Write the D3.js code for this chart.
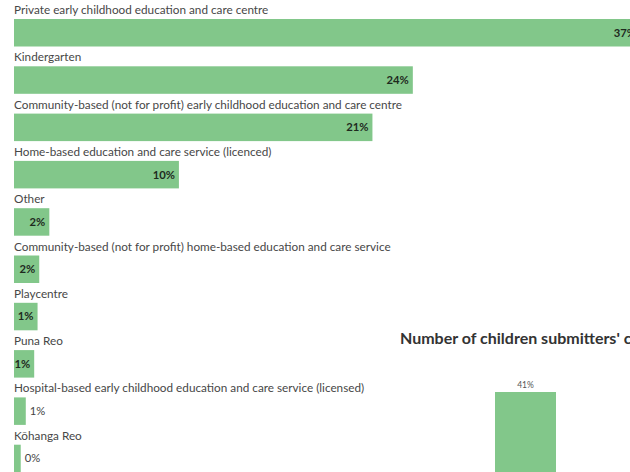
<!DOCTYPE html>
<html>
<head>
<meta charset="utf-8">
<script src="https://cdn.jsdelivr.net/npm/d3@7/dist/d3.min.js"></script>
<style>
  html, body { margin: 0; padding: 0; background: #fff; overflow: hidden; }
  svg { display: block; }
</style>
</head>
<body>
<script>
// Type of early childhood service attended (percent of submitters)
const serviceTypes = [
  "Private early childhood education and care centre",
  "Kindergarten",
  "Community-based (not for profit) early childhood education and care centre",
  "Home-based education and care service (licenced)",
  "Other",
  "Community-based (not for profit) home-based education and care service",
  "Playcentre",
  "Puna Reo",
  "Hospital-based early childhood education and care service (licensed)",
  "Kōhanga Reo"
];
const servicePercents = [37.2, 23.7, 21.3, 9.8, 2.1, 1.5, 1.4, 1.2, 0.7, 0.4];

// Second panel: number of children
const childCountCategories = ["1"];
const childCountPercents = [41];
const childCountTitle = "Number of children submitters' care for";

const W = 630, H = 472;
const green = "#82c78a";
const font = "Lato, 'Source Sans Pro', sans-serif";

const svg = d3.select("body").append("svg")
  .attr("width", W).attr("height", H);

// ---- horizontal bar panel ----
const left = 14;
const x = d3.scaleLinear().domain([0, 37.2]).range([left, left + 626]);
const rows = d3.scaleBand().domain(serviceTypes).range([0, 473]);
const fmt = v => d3.format(".0f")(v) + "%";

const rowG = svg.append("g").selectAll("g")
  .data(serviceTypes.map((name, i) => ({ name, value: servicePercents[i] })))
  .join("g")
  .attr("transform", d => `translate(0,${rows(d.name)})`);

rowG.append("text")
  .attr("x", left).attr("y", 14)
  .attr("font-family", font).attr("font-size", 11.75)
  .attr("fill", "#474747")
  .text(d => d.name);

const barH = 27.5;
rowG.append("rect")
  .attr("x", x(0)).attr("y", 19)
  .attr("width", d => x(d.value) - x(0))
  .attr("height", barH)
  .attr("fill", green);

rowG.append("text")
  .attr("y", 19 + barH / 2)
  .attr("dy", "0.35em")
  .attr("font-family", font).attr("font-size", 11.25)
  .each(function (d) {
    const w = x(d.value) - x(0);
    const inside = w > 20;
    d3.select(this)
      .attr("x", inside ? x(d.value) - 4 : x(d.value) + 4)
      .attr("text-anchor", inside ? "end" : "start")
      .attr("font-weight", inside ? 700 : 400)
      .attr("fill", inside ? "#1e2a1e" : "#444");
  })
  .text(d => fmt(d.value));

// ---- vertical bar panel (partly visible) ----
svg.append("text")
  .attr("x", 400).attr("y", 344)
  .attr("font-family", font).attr("font-size", 16)
  .attr("font-weight", 700).attr("fill", "#333")
  .text(childCountTitle);

const bx = d3.scaleBand().domain(childCountCategories).range([495, 556]);
const by = d3.scaleLinear().domain([0, 41]).range([560, 392]);

svg.append("g").selectAll("rect")
  .data(childCountCategories.map((c, i) => ({ c, v: childCountPercents[i] })))
  .join("rect")
  .attr("x", d => bx(d.c)).attr("width", bx.bandwidth())
  .attr("y", d => by(d.v)).attr("height", d => by(0) - by(d.v))
  .attr("fill", green);

svg.append("g").selectAll("text")
  .data(childCountCategories.map((c, i) => ({ c, v: childCountPercents[i] })))
  .join("text")
  .attr("x", d => bx(d.c) + bx.bandwidth() / 2)
  .attr("y", d => by(d.v) - 4)
  .attr("text-anchor", "middle")
  .attr("font-family", font).attr("font-size", 8.5)
  .attr("fill", "#555")
  .text(d => d.v + "%");
</script>
</body>
</html>
